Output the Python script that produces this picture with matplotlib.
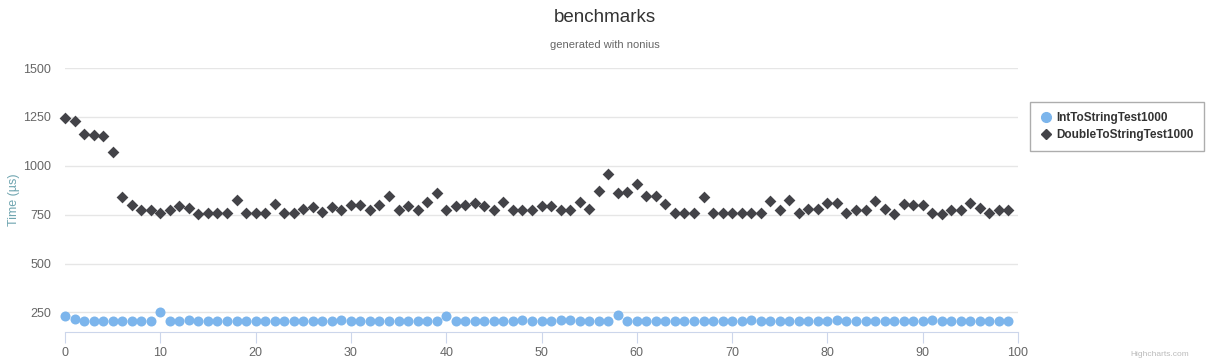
import numpy as np
import matplotlib
matplotlib.use('Agg')
import matplotlib.pyplot as plt
from matplotlib.lines import Line2D

plt.rcParams['font.family'] = ['Liberation Sans', 'DejaVu Sans']

# benchmark samples (index 0..99), values in microseconds
samples = list(range(100))

int_to_string = [232, 215, 207, 207, 206, 206, 206, 206, 206, 206,
                 250, 208, 207, 210, 206, 206, 206, 206, 206, 206,
                 206, 206, 206, 207, 207, 206, 206, 206, 206, 210,
                 206, 206, 206, 206, 206, 205, 206, 206, 206, 206,
                 234, 206, 205, 208, 205, 206, 206, 206, 210, 206,
                 205, 206, 210, 209, 206, 206, 205, 205, 236, 205,
                 205, 205, 205, 205, 205, 205, 205, 206, 207, 207,
                 206, 205, 210, 206, 205, 205, 206, 206, 205, 205,
                 206, 210, 206, 206, 205, 205, 206, 205, 205, 205,
                 206, 210, 206, 205, 205, 205, 206, 205, 206, 206]

double_to_string = [1245, 1230, 1160, 1155, 1153, 1070, 838, 800, 775, 775,
                    760, 775, 795, 785, 755, 757, 757, 757, 825, 757,
                    757, 760, 805, 757, 757, 780, 790, 765, 790, 772,
                    800, 800, 775, 800, 845, 775, 795, 775, 815, 860,
                    775, 793, 797, 808, 795, 775, 815, 775, 775, 775,
                    793, 795, 775, 775, 815, 778, 870, 960, 860, 865,
                    905, 845, 845, 805, 757, 757, 757, 840, 757, 757,
                    760, 757, 757, 760, 820, 775, 823, 757, 778, 778,
                    810, 812, 757, 775, 775, 820, 778, 755, 805, 800,
                    797, 757, 755, 775, 775, 810, 785, 757, 775, 775]

y_ticks = [250, 500, 750, 1000, 1250, 1500]
x_ticks = [0, 10, 20, 30, 40, 50, 60, 70, 80, 90, 100]

blue = '#7cb5ec'
dark = '#434348'

fig = plt.figure(figsize=(12.09, 3.6), dpi=100)
ax = fig.add_axes([65 / 1209, 1 - 332 / 360, (1018 - 65) / 1209, (332 - 68) / 360])

ax.scatter(samples, int_to_string, s=52, color=blue, marker='o', linewidths=0, zorder=3, clip_on=False)
ax.scatter(samples, double_to_string, s=36, color=dark, marker='D', linewidths=0, zorder=3, clip_on=False)

ax.set_xlim(0, 100)
ax.set_ylim(150, 1500)
ax.set_yticks(y_ticks)
ax.set_xticks(x_ticks)

ax.grid(axis='y', color='#e6e6e6', linewidth=1)
ax.set_axisbelow(True)
for side in ['top', 'right', 'left']:
    ax.spines[side].set_visible(False)
ax.spines['bottom'].set_color('#ccd6eb')
ax.tick_params(axis='x', colors='#ccd6eb', length=8, labelcolor='#666666', labelsize=9, pad=3)
ax.tick_params(axis='y', length=0, labelcolor='#666666', labelsize=9, pad=10)

ax.set_ylabel('Time (µs)', color='#6fa5b0', fontsize=9)
ax.yaxis.set_label_coords(-45 / 953, 0.5)

fig.text(0.5, 1 - 18 / 360, 'benchmarks', ha='center', va='center', fontsize=13.5, color='#333333')
fig.text(0.5, 1 - 45 / 360, 'generated with nonius', ha='center', va='center', fontsize=8, color='#666666')

handles = [Line2D([], [], marker='o', linestyle='', color=blue, markersize=7, label='IntToStringTest1000'),
           Line2D([], [], marker='D', linestyle='', color=dark, markersize=5, label='DoubleToStringTest1000')]
leg = fig.legend(handles=handles, loc='upper left', bbox_to_anchor=(1030 / 1209, 1 - 102 / 360),
                 frameon=True, fancybox=False, prop={'weight': 'bold', 'size': 8.5},
                 handletextpad=0.4, borderpad=0.85, labelspacing=0.45, handlelength=1.0,
                 borderaxespad=0)
leg.get_frame().set_edgecolor('#999999')
leg.get_frame().set_linewidth(1)
for t in leg.get_texts():
    t.set_color('#333333')

fig.text(1 - 20 / 1209, 5 / 360, 'Highcharts.com', ha='right', va='center', fontsize=6, color='#bbbbbb')

fig.savefig('out.png', dpi=100)
